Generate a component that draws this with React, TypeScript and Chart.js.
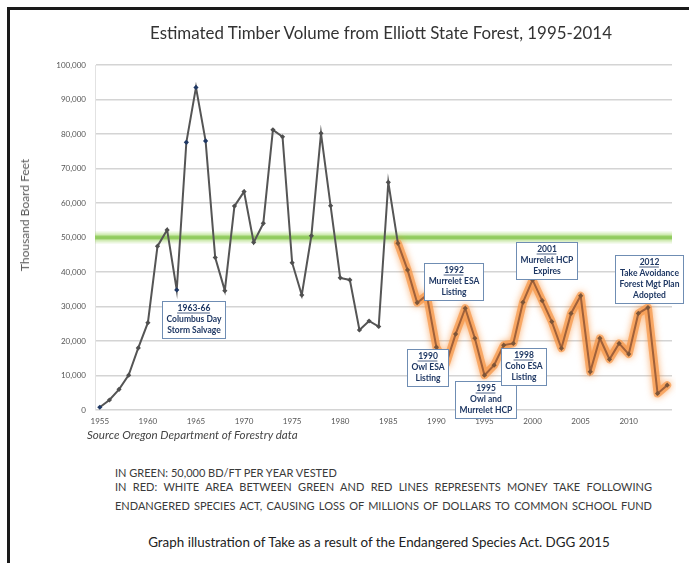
import React, { useEffect, useRef } from 'react';
import { Chart, registerables } from 'chart.js';

Chart.register(...registerables);

// ---------------- DATA ----------------
const YEARS = [
  1955, 1956, 1957, 1958, 1959, 1960, 1961, 1962, 1963, 1964,
  1965, 1966, 1967, 1968, 1969, 1970, 1971, 1972, 1973, 1974,
  1975, 1976, 1977, 1978, 1979, 1980, 1981, 1982, 1983, 1984,
  1985, 1986, 1987, 1988, 1989, 1990, 1991, 1992, 1993, 1994,
  1995, 1996, 1997, 1998, 1999, 2000, 2001, 2002, 2003, 2004,
  2005, 2006, 2007, 2008, 2009, 2010, 2011, 2012, 2013, 2014,
];

const VOLUME = [
  800, 2900, 6000, 10100, 18000, 25300, 47500, 52200, 34800, 77600,
  93500, 78000, 44200, 34600, 59100, 63300, 48600, 54100, 81200, 79200,
  42700, 33300, 50500, 80200, 59200, 38300, 37700, 23200, 25800, 24200,
  66000, 48300, 40600, 31100, 33300, 18200, 13300, 22000, 29500, 20800,
  10100, 13000, 18800, 19300, 31200, 37700, 31700, 25600, 17900, 28000,
  33100, 11100, 20800, 14700, 19300, 16200, 28000, 29700, 4800, 7200,
];

const HIGHLIGHT_YEARS = [1955, 1963, 1964, 1965, 1966];
const ESA_START_YEAR = 1986;
const VESTED_LEVEL = 50000;

const Y_MIN = 0;
const Y_MAX = 100000;
const Y_STEP = 10000;
const X_LABEL_EVERY = 5;

const TITLE = 'Estimated Timber Volume from Elliott State Forest, 1995-2014';
const Y_TITLE = 'Thousand Board Feet';
const SOURCE = 'Source Oregon Department of Forestry data';
const NOTE_GREEN = 'IN GREEN: 50,000 BD/FT PER YEAR VESTED';
const NOTE_RED_1 = 'IN RED: WHITE AREA BETWEEN GREEN AND RED LINES REPRESENTS MONEY TAKE FOLLOWING';
const NOTE_RED_2 = 'ENDANGERED SPECIES ACT, CAUSING LOSS OF MILLIONS OF DOLLARS TO COMMON SCHOOL FUND';
const CAPTION = 'Graph illustration of Take as a result of the Endangered Species Act. DGG 2015';

// Annotation callouts: anchored at (center year, top value)
const ANNOTATIONS = [
  { year: 1964.7, top: 31600, lines: ['1963-66', 'Columbus Day', 'Storm Salvage'] },
  { year: 1989.1, top: 17700, lines: ['1990', 'Owl ESA', 'Listing'] },
  { year: 1991.75, top: 42600, lines: ['1992', 'Murrelet ESA', 'Listing'] },
  { year: 1995.1, top: 8400, lines: ['1995', 'Owl and', 'Murrelet HCP'] },
  { year: 1999.1, top: 18000, lines: ['1998', 'Coho ESA', 'Listing'] },
  { year: 2001.4, top: 48700, lines: ['2001', 'Murrelet HCP', 'Expires'] },
  { year: 2012.1, top: 44900, lines: ['2012', 'Take Avoidance', 'Forest Mgt Plan', 'Adopted'] },
];

// ---------------- STYLE ----------------
const FONT = 'Lato, "Open Sans", "DejaVu Sans", sans-serif';

const refLinePlugin = {
  id: 'refLineAndGlow',
  beforeDatasetsDraw(chart: any) {
    const { ctx, chartArea, scales } = chart;
    const y = scales.y.getPixelForValue(VESTED_LEVEL);
    ctx.save();
    ctx.lineCap = 'butt';
    const layers = [
      { w: 12, c: 'rgba(170,220,120,0.25)' },
      { w: 8, c: 'rgba(160,214,105,0.35)' },
      { w: 4, c: 'rgba(135,200,80,0.8)' },
    ];
    for (const l of layers) {
      ctx.beginPath();
      ctx.strokeStyle = l.c;
      ctx.lineWidth = l.w;
      ctx.moveTo(chartArea.left, y);
      ctx.lineTo(chartArea.right, y);
      ctx.stroke();
    }
    ctx.restore();
  },
  beforeDatasetDraw(chart: any, args: any) {
    if (args.index === 1) {
      const ctx = chart.ctx;
      ctx.save();
      ctx.shadowColor = 'rgba(247,140,50,0.95)';
      ctx.shadowBlur = 7;
    }
  },
  afterDatasetDraw(chart: any, args: any) {
    if (args.index === 1) {
      chart.ctx.restore();
    }
  },
  afterDraw(chart: any) {
    const { ctx, scales } = chart;
    const xs = scales.x;
    const ys = scales.y;
    ctx.save();
    const fontSize = 8.5;
    const lh = 11;
    const padX = 4;
    const padY = 2;
    for (const a of ANNOTATIONS) {
      ctx.font = `bold ${fontSize}px ${FONT}`;
      let maxW = 0;
      for (const t of a.lines) maxW = Math.max(maxW, ctx.measureText(t).width);
      const w = Math.round(maxW + padX * 2);
      const h = a.lines.length * lh + padY * 2;
      const cx = xs.getPixelForValue(a.year - YEARS[0]);
      const top = Math.round(ys.getPixelForValue(a.top));
      const left = Math.round(cx - w / 2);
      ctx.fillStyle = '#ffffff';
      ctx.fillRect(left, top, w, h);
      ctx.strokeStyle = '#6f8db3';
      ctx.lineWidth = 1;
      ctx.strokeRect(left + 0.5, top + 0.5, w, h);
      ctx.fillStyle = '#1f3864';
      ctx.textAlign = 'center';
      ctx.textBaseline = 'middle';
      a.lines.forEach((t, i) => {
        const ty = top + padY + lh * i + lh / 2;
        ctx.fillText(t, left + w / 2 + 0.5, ty);
        if (i === 0) {
          const tw = ctx.measureText(t).width;
          ctx.beginPath();
          ctx.strokeStyle = '#1f3864';
          ctx.lineWidth = 0.8;
          ctx.moveTo(left + w / 2 - tw / 2, ty + 4.5);
          ctx.lineTo(left + w / 2 + tw / 2, ty + 4.5);
          ctx.stroke();
        }
      });
    }
    ctx.restore();
  },
};

export default function App() {
  const canvasRef = useRef<HTMLCanvasElement | null>(null);

  useEffect(() => {
    const canvas = canvasRef.current;
    if (!canvas) return;

    const pointColors = YEARS.map((yr) =>
      HIGHLIGHT_YEARS.includes(yr) ? '#1f3864' : yr >= ESA_START_YEAR ? '#7d5538' : '#4f4f4f'
    );
    const esaData = VOLUME.map((v, i) => (YEARS[i] >= ESA_START_YEAR ? v : null));

    const chart = new Chart(canvas, {
      type: 'line',
      data: {
        labels: YEARS.map(String),
        datasets: [
          {
            label: 'Timber volume',
            data: VOLUME,
            borderColor: '#555555',
            borderWidth: 2,
            tension: 0,
            pointStyle: 'rectRot',
            pointRadius: 2.6,
            pointBorderWidth: 0,
            pointBackgroundColor: pointColors,
            pointBorderColor: pointColors,
            order: 1,
            segment: {
              borderColor: (c: any) => (YEARS[c.p0DataIndex] >= ESA_START_YEAR ? '#a0613a' : undefined),
            },
          },
          {
            label: 'ESA period',
            data: esaData,
            borderColor: 'rgba(247,150,70,0.7)',
            borderWidth: 8,
            borderJoinStyle: 'round',
            borderCapStyle: 'round',
            tension: 0,
            pointRadius: 0,
            spanGaps: false,
            order: 2,
          },
        ],
      },
      options: {
        animation: false,
        responsive: false,
        events: [],
        layout: { padding: { left: 10, right: 17, top: 65, bottom: 0 } },
        plugins: {
          legend: { display: false },
          tooltip: { enabled: false },
          title: { display: false },
        },
        scales: {
          x: {
            type: 'category',
            offset: true,
            grid: { display: false, drawTicks: false },
            border: { display: false },
            afterFit: (s: any) => {
              s.height = 30;
            },
            ticks: {
              autoSkip: false,
              maxRotation: 0,
              minRotation: 0,
              padding: 7,
              color: '#555555',
              font: { family: FONT, size: 8 },
              callback: (_v: any, i: number) => (YEARS[i] % X_LABEL_EVERY === 0 ? String(YEARS[i]) : ''),
            },
          },
          y: {
            min: Y_MIN,
            max: Y_MAX,
            afterFit: (s: any) => {
              s.width = 85;
            },
            grid: { color: '#d4d4d4', lineWidth: 1.5, drawTicks: false },
            border: { display: true, color: '#e2e2e2', width: 1 },
            ticks: {
              stepSize: Y_STEP,
              padding: 9,
              color: '#555555',
              font: { family: FONT, size: 8 },
              callback: (v: any) => Number(v).toLocaleString('en-US'),
            },
            title: { display: false },
          },
        },
      },
      plugins: [refLinePlugin],
    });

    return () => chart.destroy();
  }, []);

  const textBase: React.CSSProperties = {
    position: 'absolute',
    fontFamily: FONT,
    whiteSpace: 'nowrap',
  };

  const justified: React.CSSProperties = {
    position: 'absolute',
    fontFamily: FONT,
    left: 115,
    width: 537,
    fontSize: 11,
    lineHeight: '14px',
    color: '#3a3a3a',
    textAlign: 'justify',
    textAlignLast: 'justify',
    whiteSpace: 'normal',
    height: 14,
    overflow: 'visible',
  };

  return (
    <div style={{ position: 'absolute', left: 0, top: 0, width: 689, height: 563, background: '#ffffff', overflow: 'hidden' }}>
      <div
        style={{
          position: 'absolute',
          left: 7,
          top: 7,
          width: 700,
          height: 600,
          borderTop: '3px solid #1a1a1a',
          borderLeft: '3px solid #1a1a1a',
        }}
      />
      <canvas ref={canvasRef} width={689} height={440} style={{ position: 'absolute', left: 0, top: 0 }} />
      <div style={{ ...textBase, left: 0, width: 762, top: 23, fontSize: 16.9, lineHeight: '20px', color: '#333', textAlign: 'center' }}>
        {TITLE}
      </div>
      <div
        style={{
          ...textBase,
          left: 25,
          top: 215,
          fontSize: 12,
          lineHeight: '14px',
          color: '#595959',
          transform: 'translate(-50%, -50%) rotate(-90deg)',
        }}
      >
        {Y_TITLE}
      </div>
      <div style={{ ...textBase, left: 87, top: 428, fontSize: 11.6, lineHeight: '14px', fontStyle: 'italic', color: '#444' }}>
        {SOURCE}
      </div>
      <div style={{ ...textBase, left: 115, top: 466, fontSize: 11, lineHeight: '14px', color: '#3a3a3a' }}>
        {NOTE_GREEN}
      </div>
      <div style={{ ...justified, top: 480 }}>{NOTE_RED_1}</div>
      <div style={{ ...justified, top: 499 }}>{NOTE_RED_2}</div>
      <div style={{ ...textBase, left: 0, width: 758, top: 534, fontSize: 13.4, lineHeight: '16px', color: '#222', textAlign: 'center' }}>
        {CAPTION}
      </div>
    </div>
  );
}
